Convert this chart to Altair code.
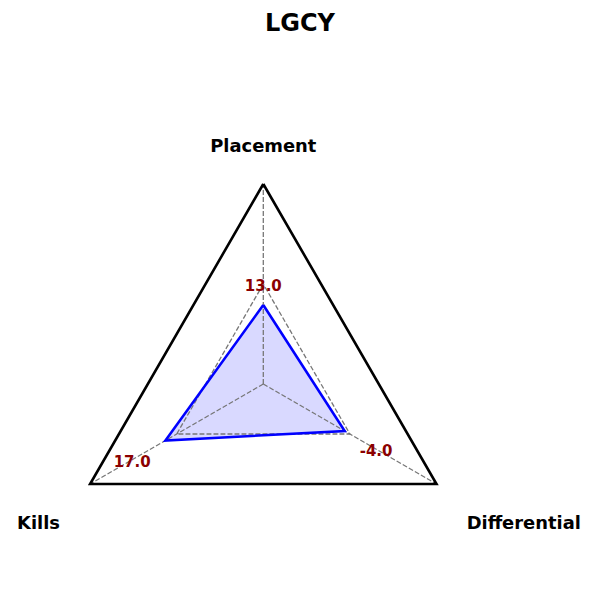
import math
import altair as alt
import pandas as pd

# ---- data ----
title_text = "LGCY"
categories = ["Placement", "Kills", "Differential"]
raw_values = [13.0, 17.0, -4.0]
norm_values = [0.395, 0.565, 0.47]      # normalised radius (0..1)
label_radius = [0.5, 0.757, 0.651]      # where value labels sit (normalised radius)
grid_levels = [0.5]
outer_level = 1.0
angles_deg = [90, 210, 330]

def pt(r, a):
    t = math.radians(a)
    return r * math.cos(t), r * math.sin(t)

# line tables
rows = []
def add_poly(group, radii, closed=True):
    pts = [pt(r, a) for r, a in zip(radii, angles_deg)]
    if closed:
        pts = pts + [pts[0]]
    for i, (x, y) in enumerate(pts):
        rows.append({"group": group, "order": i, "x": x, "y": y})

for lv in grid_levels:
    add_poly(f"grid{lv}", [lv] * 3)
for k, a in enumerate(angles_deg):
    x, y = pt(outer_level, a)
    rows.append({"group": f"spoke{k}", "order": 0, "x": 0.0, "y": 0.0})
    rows.append({"group": f"spoke{k}", "order": 1, "x": x, "y": y})
add_poly("outer", [outer_level] * 3)
add_poly("value", norm_values)
lines = pd.DataFrame(rows)

# filled area for the value polygon (vertical slices)
vp = [pt(r, a) for r, a in zip(norm_values, angles_deg)]
top, left, right = vp[0], vp[1], vp[2]
def lower(xq):
    return left[1] + (right[1] - left[1]) * (xq - left[0]) / (right[0] - left[0])
fill_df = pd.DataFrame({
    "x": [left[0], top[0], right[0]],
    "y": [left[1], top[1], right[1]],
    "y2": [left[1], lower(top[0]), right[1]],
})

vlab = pd.DataFrame({
    "x": [pt(r, a)[0] for r, a in zip(label_radius, angles_deg)],
    "y": [pt(r, a)[1] for r, a in zip(label_radius, angles_deg)],
    "text": [f"{v:.1f}" for v in raw_values],
})

axr = 1.2
axlab = pd.DataFrame({
    "x": [pt(axr, a)[0] for a in angles_deg],
    "y": [pt(axr, a)[1] for a in angles_deg],
    "text": categories,
})

xs = alt.Scale(domain=[-1.3165, 1.6835], nice=False, zero=False)
ys = alt.Scale(domain=[-1.08, 1.92], nice=False, zero=False)
X = lambda: alt.X("x:Q", scale=xs, axis=None)
Y = lambda: alt.Y("y:Q", scale=ys, axis=None)

base_lines = alt.Chart(lines)

grid = base_lines.transform_filter(
    "indexof(datum.group, 'grid') == 0 || indexof(datum.group, 'spoke') == 0"
).mark_line(color="#777777", strokeWidth=1.3, strokeDash=[4.9, 2.1]).encode(
    x=X(), y=Y(), detail="group:N", order="order:Q")

fill = alt.Chart(fill_df).mark_area(color="#0000ff", opacity=0.15, orient="vertical").encode(
    x=X(), y=Y(), y2="y2:Q")

value_line = base_lines.transform_filter("datum.group == 'value'").mark_line(
    color="#0000ff", strokeWidth=2.6, strokeJoin="miter").encode(
    x=X(), y=Y(), detail="group:N", order="order:Q")

outer = base_lines.transform_filter("datum.group == 'outer'").mark_line(
    color="black", strokeWidth=2.6, strokeJoin="miter").encode(
    x=X(), y=Y(), detail="group:N", order="order:Q")

vtext = alt.Chart(vlab).mark_text(
    font="DejaVu Sans", fontWeight="bold", fontSize=15, color="#8b0000",
    align="center", baseline="middle", dy=2).encode(x=X(), y=Y(), text="text:N")

fs = 17.9
ax_top = alt.Chart(axlab).transform_filter("datum.text == 'Placement'").mark_text(
    font="DejaVu Sans", fontWeight="bold", fontSize=fs, color="black",
    align="center", baseline="middle", dy=3).encode(x=X(), y=Y(), text="text:N")
ax_left = alt.Chart(axlab).transform_filter("datum.text == 'Kills'").mark_text(
    font="DejaVu Sans", fontWeight="bold", fontSize=fs, color="black",
    align="right", baseline="middle", dx=4.5, dy=19.5).encode(x=X(), y=Y(), text="text:N")
ax_right = alt.Chart(axlab).transform_filter("datum.text == 'Differential'").mark_text(
    font="DejaVu Sans", fontWeight="bold", fontSize=fs, color="black",
    align="left", baseline="middle", dx=-4.5, dy=19.5).encode(x=X(), y=Y(), text="text:N")

title = alt.Chart(pd.DataFrame({"t": [title_text]})).mark_text(
    font="DejaVu Sans", fontWeight="bold", fontSize=24, color="black",
    align="center", baseline="middle").encode(
    x=alt.value(300), y=alt.value(24), text="t:N")

chart = alt.layer(fill, grid, value_line, outer, vtext, ax_top, ax_left, ax_right, title).properties(
    width=600, height=600, autosize=alt.AutoSizeParams(type="none"), padding=0,
    background="white"
).configure_view(stroke=None)

chart.save("out.html", embed_options={"renderer": "svg", "actions": False})
